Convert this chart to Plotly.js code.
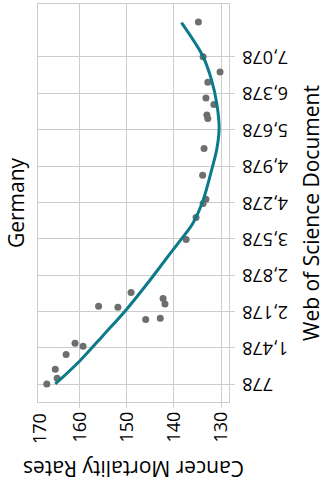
<!DOCTYPE html>
<html><head><meta charset="utf-8">
<script src="https://cdn.plot.ly/plotly-3.0.1.min.js"></script>
<style>
html,body{margin:0;padding:0;width:326px;height:495px;overflow:hidden;background:#fff;}
#wrap{position:absolute;left:0;top:0;width:495px;height:326px;transform-origin:0 0;transform:translate(0px,495px) rotate(-90deg);}
#chart{width:495px;height:326px;}
</style></head><body><div id="wrap"><div id="chart"></div></div>
<script>
const documents = [784, 894, 1067, 1350, 1568, 1510, 2280, 2261, 2544, 2024, 2049, 2428, 2325, 3565, 3988, 4258, 4341, 4803, 5318, 5895, 5959, 6165, 6286, 6589, 6787, 7082, 7750];
const mortality = [167.0, 164.8, 165.2, 162.9, 161.0, 159.3, 156.0, 151.9, 149.1, 146.0, 142.9, 142.3, 141.9, 137.4, 135.3, 133.8, 133.2, 133.9, 133.6, 132.8, 133.0, 131.5, 133.2, 132.8, 130.2, 133.8, 134.8];
const fitDocuments = [784, 1227, 1722, 2184, 2781, 3199, 3551, 3873, 4322, 4900, 5300, 5700, 6184, 6633, 7082, 7737];
const fitMortality = [165.2, 160.0, 155.0, 150.4, 145.1, 141.6, 138.6, 136.0, 133.8, 132.0, 130.9, 130.4, 130.9, 132.0, 133.8, 138.4];
const xTickValues = [778, 1478, 2178, 2878, 3578, 4278, 4978, 5678, 6378, 7078];
const xTickLabels = ['778', '1,478', '2,178', '2,878', '3,578', '4,278', '4,978', '5,678', '6,378', '7,078'];
const yTickValues = [130, 140, 150, 160, 170];
const yTickLabels = ['130', '140', '150', '160', '170'];
const chartTitle = 'Germany';
const xTitle = 'Web of Science Document';
const yTitle = 'Cancer Mortality Rates';

const FONT = '"Open Sans", sans-serif';
const GRID = '#cccccc';

const traces = [
  {type: 'scatter', mode: 'markers', x: documents, y: mortality,
   marker: {color: '#6e6e6e', size: 7}, hoverinfo: 'skip', cliponaxis: false},
  {type: 'scatter', mode: 'lines', x: fitDocuments, y: fitMortality,
   line: {color: '#0c7a8a', width: 3, shape: 'spline', smoothing: 1}, hoverinfo: 'skip'}
];

const layout = {
  width: 495, height: 326,
  margin: {l: 93, r: 4, t: 38, b: 97},
  paper_bgcolor: '#fff', plot_bgcolor: '#fff',
  showlegend: false,
  font: {family: FONT, color: '#000', size: 18},
  title: {text: chartTitle, font: {family: FONT, size: 21, color: '#000'},
          xref: 'paper', x: 0.5, xanchor: 'center', yref: 'container', y: 0.972, yanchor: 'top'},
  xaxis: {range: [437, 8097], tickvals: xTickValues, ticktext: xTickLabels, tickangle: -90,
          showgrid: true, gridcolor: GRID, gridwidth: 1, zeroline: false,
          showline: true, mirror: true, linecolor: GRID, linewidth: 1,
          ticks: 'outside', ticklen: 5, tickcolor: GRID, tickfont: {family: FONT, size: 18, color: '#000'},
          automargin: false},
  yaxis: {range: [128.3, 168.87], tickvals: yTickValues, ticktext: yTickLabels,
          showgrid: true, gridcolor: GRID, gridwidth: 1, zeroline: false,
          showline: true, mirror: true, linecolor: GRID, linewidth: 1,
          ticks: 'outside', ticklen: 5, tickcolor: GRID, tickfont: {family: FONT, size: 18, color: '#000'},
          title: {text: yTitle, font: {family: FONT, size: 21, color: '#000'}, standoff: 12},
          automargin: false},
  annotations: [
    {text: xTitle, xref: 'paper', yref: 'paper', x: 0.4745, y: 0, xanchor: 'center', yanchor: 'top',
     yshift: -66, showarrow: false, font: {family: FONT, size: 21, color: '#000'}},
    {text: yTickLabels[4], xref: 'paper', yref: 'paper', x: 0, y: 1, xanchor: 'right', yanchor: 'middle',
     xshift: -9, yshift: -1.4, showarrow: false, font: {family: FONT, size: 18, color: '#000'}}
  ]
};

Plotly.newPlot('chart', traces, layout, {displayModeBar: false, staticPlot: true});
</script>
</body></html>
